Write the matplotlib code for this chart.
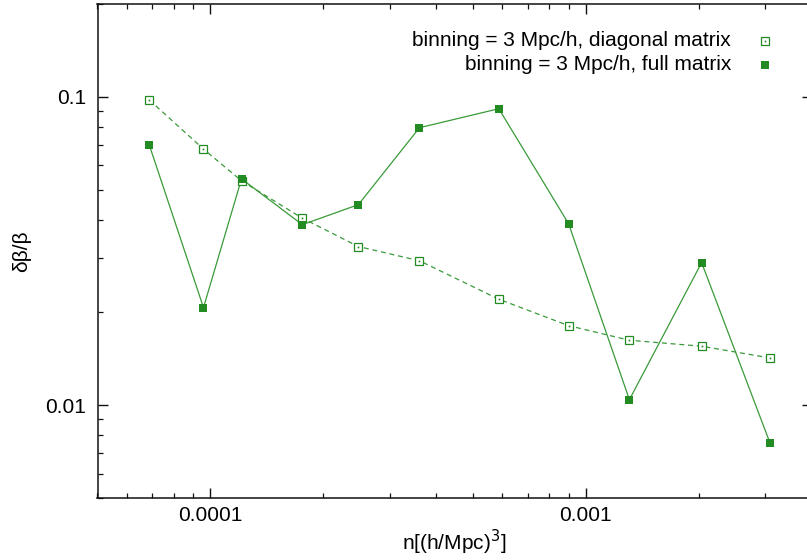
import matplotlib
matplotlib.use("Agg")
import matplotlib.pyplot as plt
from matplotlib.ticker import LogLocator, FixedLocator, FixedFormatter, NullFormatter

plt.rcParams['font.family'] = ['Liberation Sans', 'DejaVu Sans']

# number density n [(h/Mpc)^3]
density = [6.87e-5, 9.58e-5, 1.21e-4, 1.757e-4, 2.478e-4, 3.605e-4,
           5.866e-4, 9.0e-4, 1.307e-3, 2.036e-3, 3.097e-3]
# relative error on beta
err_diagonal = [0.0977, 0.0677, 0.0534, 0.0404, 0.0327, 0.0294,
                0.02206, 0.01811, 0.01624, 0.01553, 0.01423]
err_full = [0.0698, 0.02072, 0.0542, 0.03849, 0.0447, 0.0794,
            0.0915, 0.03878, 0.01042, 0.0290, 0.00754]

label_diag = "binning = 3 Mpc/h, diagonal matrix"
label_full = "binning = 3 Mpc/h, full matrix"

green = "#228b22"
line_green = "#3a9a3a"
fs = 15

W, H = 807, 560
fig = plt.figure(figsize=(W / 100, H / 100), dpi=100)
x0, x1 = 97.5, 811.7
y_top, y_bot = 4, 498
ax = fig.add_axes([x0 / W, (H - y_bot) / H, (x1 - x0) / W, (y_bot - y_top) / H])
ax.set_xscale('log')
ax.set_yscale('log')
ax.set_xlim(5e-5, 4e-3)
ax.set_ylim(0.005, 0.2)

# diagonal-matrix errors: dashed line with open squares
ax.plot(density, err_diagonal, color=line_green, lw=0.9, ls=(0, (4, 3)), zorder=2)
ax.plot(density, err_diagonal, ls='none', marker='s', ms=5.2, mfc='white',
        mec=green, mew=0.9, zorder=3)
ax.plot(density, err_diagonal, ls='none', marker='s', ms=1.2, mfc=green,
        mec=green, mew=0, zorder=4)

# full-matrix errors: solid line with filled squares
ax.plot(density, err_full, color=line_green, lw=0.9, zorder=2)
ax.plot(density, err_full, ls='none', marker='s', ms=5.2, mfc=green,
        mec=green, mew=0, zorder=3)

# key in the upper right
tr = ax.transAxes
def ax_xy(px, py):
    return ((px - x0) / (x1 - x0), (y_bot - py) / (y_bot - y_top))

tx, ty = ax_xy(731, 41)
ax.text(tx, ty, label_diag, transform=tr, ha='right', va='center', fontsize=fs)
mx, my = ax_xy(765, 41)
ax.plot([mx], [my], transform=tr, marker='s', ms=5.2, mfc='white', mec=green,
        mew=0.9, clip_on=False)
ax.plot([mx], [my], transform=tr, marker='s', ms=1.2, mfc=green, mec=green,
        mew=0, clip_on=False)
tx, ty = ax_xy(731, 65)
ax.text(tx, ty, label_full, transform=tr, ha='right', va='center', fontsize=fs)
mx, my = ax_xy(765, 65)
ax.plot([mx], [my], transform=tr, marker='s', ms=5.2, mfc=green, mec=green,
        mew=0, clip_on=False)

# axes styling
for s in ax.spines.values():
    s.set_linewidth(1.1)
    s.set_color('#111111')

ax.xaxis.set_major_locator(FixedLocator([1e-4, 1e-3]))
ax.xaxis.set_major_formatter(FixedFormatter(['0.0001', '0.001']))
ax.xaxis.set_minor_locator(LogLocator(base=10, subs=range(2, 10), numticks=20))
ax.xaxis.set_minor_formatter(NullFormatter())
ax.yaxis.set_major_locator(FixedLocator([0.01, 0.1]))
ax.yaxis.set_major_formatter(FixedFormatter(['0.01', '0.1']))
ax.yaxis.set_minor_locator(LogLocator(base=10, subs=range(2, 10), numticks=20))
ax.yaxis.set_minor_formatter(NullFormatter())

ax.tick_params(which='both', direction='in', top=True, right=True,
               color='#111111', labelsize=fs)
ax.tick_params(which='major', length=7, width=1.0)
ax.tick_params(axis='x', which='major', pad=6)
ax.tick_params(axis='y', which='major', pad=8)
ax.tick_params(which='minor', length=3.5, width=0.9)

ax.set_xlabel(r"n[(h/Mpc)$^{3}$]", fontsize=fs, labelpad=2)
ax.set_ylabel("δβ/β", fontsize=fs, labelpad=10)

fig.savefig("out.png", dpi=100)
